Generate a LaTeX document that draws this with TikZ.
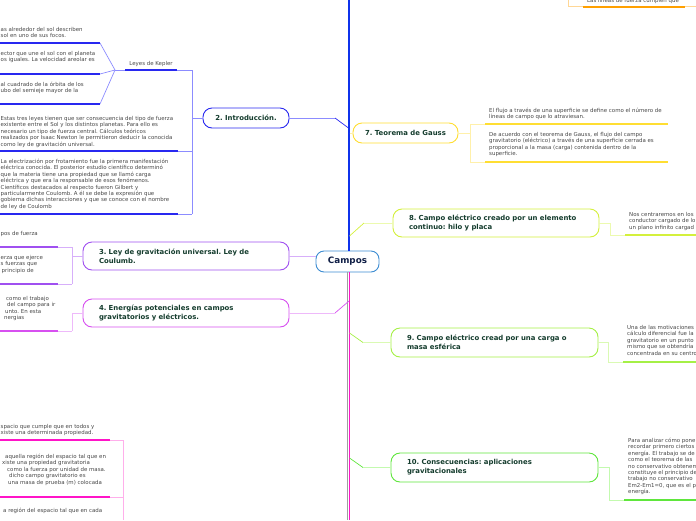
\documentclass[tikz,border=0pt]{standalone}
\usepackage{fontspec}
\setmainfont{DejaVu Sans}
\frenchspacing
\definecolor{cblue}{RGB}{40,40,240}
\definecolor{cbluel}{RGB}{140,140,255}
\definecolor{ctrunk}{RGB}{15,50,235}
\definecolor{cpur}{RGB}{160,80,240}
\definecolor{cpurl}{RGB}{215,175,250}
\definecolor{cvio}{RGB}{215,80,240}
\definecolor{cviol}{RGB}{238,185,250}
\definecolor{cpink}{RGB}{255,20,200}
\definecolor{cpinkl}{RGB}{255,175,235}
\definecolor{cyel}{RGB}{255,222,50}
\definecolor{cyell}{RGB}{255,240,170}
\definecolor{clime}{RGB}{212,240,60}
\definecolor{climel}{RGB}{236,250,175}
\definecolor{cgrn}{RGB}{165,240,70}
\definecolor{cgrnl}{RGB}{218,250,180}
\definecolor{cgrd}{RGB}{95,230,60}
\definecolor{cgrdl}{RGB}{195,250,175}
\definecolor{corg}{RGB}{255,160,0}
\definecolor{corgl}{RGB}{255,215,150}
\definecolor{croot}{RGB}{60,140,210}
\definecolor{rootText}{RGB}{15,30,70}
\definecolor{topicText}{RGB}{20,60,45}
\definecolor{noteText}{RGB}{70,70,70}
\tikzset{
  topic/.style={draw, fill=white, rounded corners=9pt, line width=0.9pt,
    font=\fontsize{6.9}{9.2}\selectfont\bfseries, text=topicText,
    inner xsep=16pt, inner ysep=0pt, align=left},
  root/.style={draw=croot, fill=white, rounded corners=8pt, line width=0.9pt,
    font=\fontsize{8.8}{10}\selectfont\bfseries, text=rootText,
    minimum width=63pt, minimum height=21pt, inner sep=0pt},
  note/.style={font=\fontsize{5.45}{6.4}\selectfont, text=noteText,
    inner sep=0pt, anchor=base west, align=left},
  link/.style={line width=0.7pt},
  under/.style={line width=1.5pt},
}
\begin{document}
\begin{tikzpicture}[x=1pt,y=-1pt]
  \useasboundingbox (0,0) rectangle (696,520);
  \clip (0,0) rectangle (696,520);
  % main topics
  \node[root] (campos) at (347.5,261.5) {Campos};
  \node[topic, draw=cblue, minimum width=86pt, minimum height=20pt, align=center, inner xsep=0pt] (intro) at (246,118) {2. Introducción.};
  \node[topic, draw=cpur, text width=174pt, minimum height=28pt] (ley) at (186,256) {3. Ley de gravitación universal. Ley de\\Coulumb.};
  \node[topic, draw=cvio, text width=174pt, minimum height=28pt] (energia) at (186,313) {4. Energías potenciales en campos\\gravitatorios y eléctricos.};
  \node[topic, draw=cyel, minimum width=105pt, minimum height=20pt, align=center, inner xsep=0pt] (gauss) at (405.5,133) {7. Teorema de Gauss};
  \node[topic, draw=clime, text width=174pt, minimum height=28pt] (hilo) at (496,223) {8. Campo eléctrico creado por un elemento\\continuo: hilo y placa};
  \node[topic, draw=cgrn, text width=175pt, minimum height=29pt] (esfera) at (494.5,342.5) {9. Campo eléctrico cread por una carga o\\masa esférica};
  \node[topic, draw=cgrd, text width=175pt, minimum height=29pt] (conse) at (494.5,467.5) {10. Consecuencias: aplicaciones\\gravitacionales};

  % trunk
  \coordinate (top) at (348.5,0);
  \coordinate (bottom) at (349.5,520);
  \draw[ctrunk, line width=2pt] (top) -- (campos.north -| top);
  \draw[gray!75, line width=0.9pt] ([xshift=-1.7pt]campos.south -| bottom) -- ([xshift=-1.7pt]bottom);
  \draw[cpink, line width=1.7pt] (campos.south -| bottom) -- (bottom);

  % branches from the trunk
  \coordinate (j2) at (348.5,128);
  \coordinate (k2) at (335,118);
  \draw[cblue, link] (j2) -- (k2);
  \draw[cbluel, link] (k2) -- (intro.east);
  \draw[cpurl, link] (ley.east) -- (ley.east -| campos.west);
  \coordinate (j4) at (349,301);
  \coordinate (k4) at (335,313);
  \draw[cvio, link] (j4) -- (k4);
  \draw[cviol, link] (k4) -- (energia.east);
  \draw[cyell, link] (gauss.west -| bottom) -- (gauss.west);
  \coordinate (j8) at (349.5,236);
  \coordinate (k8) at (364,223);
  \draw[clime, link] (j8) -- (k8);
  \draw[climel, link] (k8) -- (hilo.west);
  \coordinate (j9) at (349.5,333);
  \coordinate (k9) at (363,342.5);
  \draw[cgrn, link] (j9) -- (k9);
  \draw[cgrnl, link] (k9) -- (esfera.west);
  \coordinate (j10) at (349.5,458);
  \coordinate (k10) at (363,467.5);
  \draw[cgrd, link] (j10) -- (k10);
  \draw[cgrdl, link] (k10) -- (conse.west);

  % 2. Introduccion
  \coordinate (v2a) at (192,70);
  \coordinate (v2b) at (192,214);
  \coordinate (kep) at (115,70);
  \draw[cbluel, link] (v2a) -- (v2b);
  \draw[cbluel, link] (intro.west -| v2a) -- (intro.west);
  \draw[cbluel, link] (kep) -- (v2a);
  \draw[cblue, under] (125,70) -- (177,70);
  \foreach \y in {43,74,104} {
    \draw[cbluel, link] (100,\y) -- (kep);
    \draw[cblue, under] (0,\y) -- (100,\y);
  }
  \foreach \y in {151,214} {
    \draw[cbluel, link] (0,\y) -- (192,\y);
    \draw[cblue, under] (0,\y) -- (178,\y);
  }
  % (base = last line of each note)
  \node[note, anchor=base] (kepler) at (151,65.5) {Leyes de Kepler};
  \node[note] (kepA) at (0.5,37.4) {as alrededor del sol describen\\sol en uno de sus focos.};
  \node[note] (kepB) at (0.5,61.9) {ector que une el sol con el planeta\\os iguales. La velocidad areolar es};
  \node[note] (kepC) at (0.5,92.9) {al cuadrado de la órbita de los\\ubo del semieje mayor de la};
  \node[note] (newton) at (0.5,146.1) {Estas tres leyes tienen que ser consecuencia del tipo de fuerza\\existente entre el Sol y los distintos planetas. Para ello es\\necesario un tipo de fuerza central. Cálculos teóricos\\realizados por Isaac Newton le permitieron deducir la conocida\\como ley de gravitación universal.};
  \node[note] (coulomb) at (0.5,208.3) {La electrización por frotamiento fue la primera manifestación\\eléctrica conocida. El posterior estudio científico determinó\\que la materia tiene una propiedad que se llamó carga\\eléctrica y que era la responsable de esos fenómenos.\\Científicos destacados al respecto fueron Gilbert y\\particularmente Coulomb. A él se debe la expresión que\\gobierna dichas interacciones y que se conoce con el nombre\\de ley de Coulomb};

  % 3. Ley de gravitacion
  \coordinate (v3a) at (72,247);
  \coordinate (v3b) at (72,284);
  \draw[cpurl, link] (v3a) -- (v3b);
  \draw[cpurl, link] (ley.west -| v3a) -- (ley.west);
  \foreach \y in {247,284} {
    \draw[cpurl, link] (0,\y) -- (72,\y);
    \draw[cpur, under] (0,\y) -- (58,\y);
  }
  \node[note] (tipos) at (0.5,235.5) {pos de fuerza};
  \node[note] (fuerza) at (0.5,272.3) {erza que ejerce\\s fuerzas que\\\hspace*{1pt}principio de};

  % 4. Energias potenciales
  \coordinate (v4a) at (72,313);
  \coordinate (v4b) at (72,331);
  \draw[cviol, link] (v4a) -- (v4b);
  \draw[cviol, link] (energia.west -| v4a) -- (energia.west);
  \draw[cviol, link] (0,331) -- (72,331);
  \draw[cvio, under] (0,331) -- (58,331);
  \node[note] (trabajo) at (4,319.7) {\hspace*{2pt}como el trabajo\\\hspace*{3pt}del campo para ir\\\hspace*{1pt}unto. En esta\\nergias};

  % campo (bottom left)
  \coordinate (v5a) at (123,440);
  \coordinate (v5b) at (123,520);
  \draw[cpinkl, link] (v5a) -- (v5b);
  \foreach \y in {440,497} {
    \draw[cpinkl, link] (0,\y) -- (123,\y);
    \draw[cpink, under] (0,\y) -- (110,\y);
  }
  \node[note] (espacio) at (0.5,434.9) {spacio que cumple que en todos y\\xiste una determinada propiedad.};
  \node[note] (region) at (2,484.1) {\hspace*{3pt}aquella región del espacio tal que en\\xiste una propiedad gravitatoria\\\hspace*{5pt}como la fuerza por unidad de masa.\\\hspace*{7pt}dicho campo gravitatorio es\\\hspace*{6pt}una masa de prueba (m) colocada};
  \node[note] (cada) at (3,512.5) {a región del espacio tal que en cada};

  % 7. Teorema de Gauss
  \coordinate (v7a) at (470,124);
  \coordinate (v7b) at (470,162);
  \draw[cyell, link] (v7a) -- (v7b);
  \draw[cyell, link] (gauss.east) -- (gauss.east -| v7a);
  \foreach \y in {124,162} {
    \draw[cyell, link] (470,\y) -- (485,\y);
    \draw[cyel, under] (485,\y) -- (668,\y);
  }
  \node[note] (flujo) at (489,118.9) {El flujo a través de una superficie se define como el número de\\líneas de campo que lo atraviesan.};
  \node[note] (teorema) at (489,155.7) {De acuerdo con el teorema de Gauss, el flujo del campo\\gravitatorio (eléctrico) a través de una superficie cerrada es\\proporcional a la masa (carga) contenida dentro de la\\superficie.};

  % 8. hilo y placa
  \coordinate (v8a) at (610,223);
  \coordinate (v8b) at (610,235);
  \draw[climel, link] (hilo.east) -- (v8a) -- (v8b) -- (625,235);
  \draw[clime, line width=2pt] (625,235) -- (696,235);
  \node[note] (plano) at (629,229.3) {Nos centraremos en los\\conductor cargado de lo\\un plano infinito cargad};

  % 9. carga esferica
  \coordinate (v9a) at (608,342.5);
  \coordinate (v9b) at (608,362);
  \draw[cgrnl, link] (esfera.east) -- (v9a) -- (v9b) -- (623,362);
  \draw[cgrn, line width=2pt] (623,362) -- (696,362);
  \node[note] (motiv) at (627,355.1) {Una de las motivaciones\\cálculo diferencial fue la\\gravitatorio en un punto\\mismo que se obtendría\\concentrada en su centro};

  % 10. Consecuencias
  \coordinate (v10a) at (609,467.5);
  \coordinate (v10b) at (609,500);
  \draw[cgrdl, link] (conse.east) -- (v10a) -- (v10b) -- (624,500);
  \draw[cgrd, line width=2pt] (624,500) -- (696,500);
  \node[note] (analisis) at (628,493.7) {Para analizar cómo pone\\recordar primero ciertos\\energía. El trabajo se de\\como el teorema de las\\no conservativo obtenem\\constituye el principio de\\trabajo no conservativo\\Em2-Em1=0, que es el p\\energía.};

  % lineas de fuerza (top right)
  \coordinate (o1) at (568,0);
  \coordinate (o2) at (568,6.5);
  \draw[corgl, link] (o1) -- (o2) -- (696,6.5);
  \draw[corg, line width=2pt] (583,6.5) -- (685,6.5);
  \node[note] (lineas) at (587,2.5) {Las líneas de fuerza cumplen que};
\end{tikzpicture}
\end{document}
